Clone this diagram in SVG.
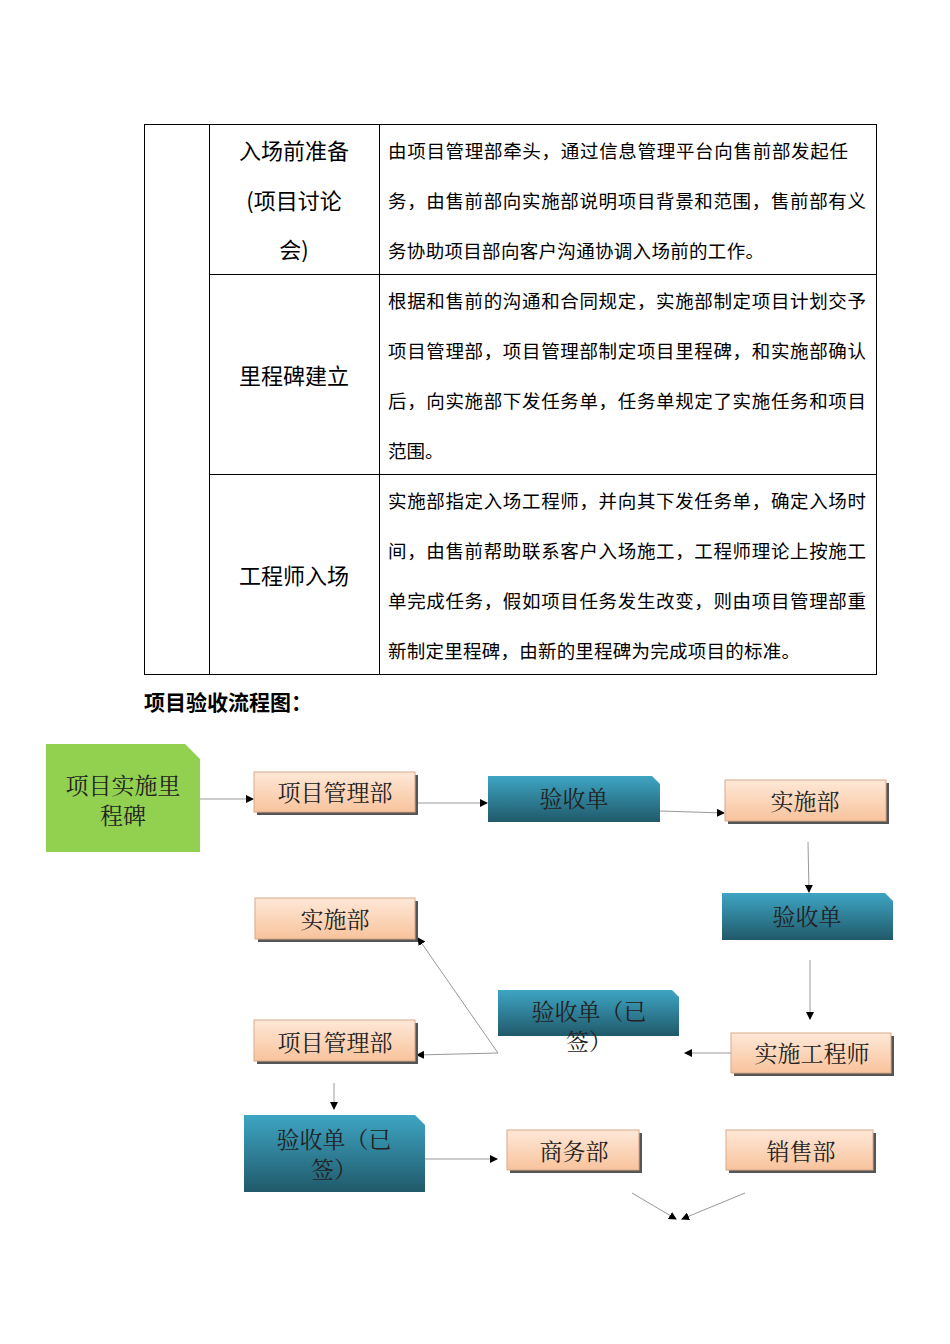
<svg xmlns="http://www.w3.org/2000/svg" width="950" height="1344" viewBox="0 0 950 1344">
<defs>
<linearGradient id="pe" x1="0" y1="0" x2="0" y2="1"><stop offset="0" stop-color="#fee8d8"/><stop offset="1" stop-color="#f8c39c"/></linearGradient>
<linearGradient id="te" x1="0" y1="0" x2="0" y2="1"><stop offset="0" stop-color="#3ea5c3"/><stop offset="1" stop-color="#20596a"/></linearGradient>
<marker id="ar" markerWidth="8" markerHeight="8" refX="7" refY="4" orient="auto" markerUnits="userSpaceOnUse"><path d="M0,0L8,4L0,8z" fill="#000"/></marker>
</defs>
<style>
.tb{font-family:"Noto Sans CJK SC","Liberation Sans",sans-serif;fill:#000}
.h{font-size:22px}
.b{font-size:18.5px}
.fl{font-family:"Noto Serif CJK SC","Noto Sans CJK SC",serif;font-size:23px;fill:#222;text-anchor:middle}
.p{fill:url(#pe);stroke:#d8a988;stroke-width:1}
.sh{fill:#555}
.t{fill:url(#te)}
.c{stroke:#999;stroke-width:1;fill:none;marker-end:url(#ar)}
</style>
<rect width="950" height="1344" fill="#fff"/>
<g id="table" fill="none" stroke="#000" stroke-width="1">
<rect x="144.5" y="124.5" width="732" height="550"/>
<line x1="209.5" y1="124" x2="209.5" y2="675"/>
<line x1="379.5" y1="124" x2="379.5" y2="675"/>
<line x1="209" y1="274.5" x2="877" y2="274.5"/>
<line x1="209" y1="474.5" x2="877" y2="474.5"/>
</g>
<g class="tb">
<text class="h" x="294" y="159" text-anchor="middle">入场前准备</text>
<text class="h" x="294" y="209" text-anchor="middle">(项目讨论</text>
<text class="h" x="294" y="258" text-anchor="middle">会)</text>
<text class="h" x="294" y="384" text-anchor="middle">里程碑建立</text>
<text class="h" x="294" y="584" text-anchor="middle">工程师入场</text>
<text class="b" x="388" y="158" textLength="460" lengthAdjust="spacing">由项目管理部牵头，通过信息管理平台向售前部发起任</text>
<text class="b" x="388" y="208" textLength="478" lengthAdjust="spacing">务，由售前部向实施部说明项目背景和范围，售前部有义</text>
<text class="b" x="388" y="258" textLength="376" lengthAdjust="spacing">务协助项目部向客户沟通协调入场前的工作。</text>
<text class="b" x="388" y="308" textLength="478" lengthAdjust="spacing">根据和售前的沟通和合同规定，实施部制定项目计划交予</text>
<text class="b" x="388" y="358" textLength="478" lengthAdjust="spacing">项目管理部，项目管理部制定项目里程碑，和实施部确认</text>
<text class="b" x="388" y="408" textLength="478" lengthAdjust="spacing">后，向实施部下发任务单，任务单规定了实施任务和项目</text>
<text class="b" x="388" y="458">范围。</text>
<text class="b" x="388" y="508" textLength="478" lengthAdjust="spacing">实施部指定入场工程师，并向其下发任务单，确定入场时</text>
<text class="b" x="388" y="558" textLength="478" lengthAdjust="spacing">间，由售前帮助联系客户入场施工，工程师理论上按施工</text>
<text class="b" x="388" y="608" textLength="478" lengthAdjust="spacing">单完成任务，假如项目任务发生改变，则由项目管理部重</text>
<text class="b" x="388" y="658" textLength="412" lengthAdjust="spacing">新制定里程碑，由新的里程碑为完成项目的标准。</text>
<text x="144" y="710" font-size="21" font-weight="bold">项目验收流程图：</text>
</g>
<g id="connectors">
<line class="c" x1="200" y1="799" x2="253" y2="799"/>
<line class="c" x1="416" y1="803" x2="487" y2="803"/>
<line class="c" x1="660" y1="811" x2="724" y2="813"/>
<line class="c" x1="808" y1="842" x2="809" y2="892"/>
<line class="c" x1="810" y1="960" x2="810" y2="1019"/>
<line class="c" x1="731" y1="1053" x2="685" y2="1053"/>
<line class="c" x1="498" y1="1053" x2="417" y2="1055"/>
<line class="c" x1="498" y1="1053" x2="418" y2="938"/>
<line class="c" x1="334" y1="1083" x2="334" y2="1109"/>
<line class="c" x1="425" y1="1159" x2="497" y2="1159"/>
<line class="c" x1="632" y1="1193" x2="676" y2="1219"/>
<line class="c" x1="745" y1="1193" x2="682" y2="1219"/>
</g>
<g id="n1"><path d="M46,744H185L200,759V852H46z" fill="#92d050"/><text class="fl" x="123" y="794">项目实施里</text><text class="fl" x="123" y="824">程碑</text></g>
<g id="n2"><rect class="sh" x="257" y="775" width="161" height="40"/><rect class="p" x="254" y="772" width="161" height="40"/><text class="fl" x="335" y="801">项目管理部</text></g>
<g id="n3"><path d="M488,776H652L660,784V822H488z" class="t"/><text class="fl" x="574" y="807">验收单</text></g>
<g id="n4"><rect class="sh" x="728" y="783" width="161" height="41"/><rect class="p" x="725" y="780" width="161" height="41"/><text class="fl" x="805" y="810">实施部</text></g>
<g id="n5"><path d="M722,893H885L893,901V940H722z" class="t"/><text class="fl" x="807" y="925">验收单</text></g>
<g id="n6"><rect class="sh" x="258" y="901" width="160" height="41"/><rect class="p" x="255" y="898" width="160" height="41"/><text class="fl" x="335" y="928">实施部</text></g>
<g id="n7"><path d="M498,990H672L679,997V1036H498z" class="t"/><text class="fl" x="589" y="1020">验收单（已</text><text class="fl" x="589" y="1050">签）</text></g>
<g id="n8"><rect class="sh" x="257" y="1023" width="161" height="41"/><rect class="p" x="254" y="1020" width="161" height="41"/><text class="fl" x="335" y="1051">项目管理部</text></g>
<g id="n9"><rect class="sh" x="734" y="1036" width="160" height="40"/><rect class="p" x="731" y="1033" width="160" height="40"/><text class="fl" x="812" y="1062">实施工程师</text></g>
<g id="n10"><path d="M244,1115H415L425,1125V1192H244z" class="t"/><text class="fl" x="334" y="1148">验收单（已</text><text class="fl" x="334" y="1178">签）</text></g>
<g id="n11"><rect class="sh" x="510" y="1133" width="132" height="40"/><rect class="p" x="507" y="1130" width="132" height="40"/><text class="fl" x="574" y="1160">商务部</text></g>
<g id="n12"><rect class="sh" x="729" y="1133" width="147" height="40"/><rect class="p" x="726" y="1130" width="147" height="40"/><text class="fl" x="801" y="1160">销售部</text></g>
</svg>
